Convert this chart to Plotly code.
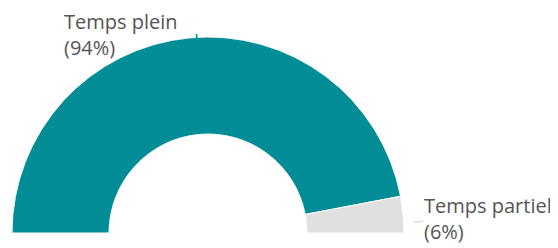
import math
import plotly.graph_objects as go

labels = ["Temps plein", "Temps partiel"]
values = [94, 6]
colors = ["#028c96", "#e0e0e0"]

W, H = 558, 248
# semi-donut geometry (pixels)
cx, cy, R = 208, 233, 196
hole = 0.505
# plotly renders the polar subplot offset by a few pixels; compensate
dx, dy = 8, 8

total = sum(values)
thetas, widths = [], []
start = 180.0
for v in values:
    w = 180.0 * v / total
    thetas.append(start - w / 2)
    widths.append(w)
    start -= w

fig = go.Figure()
fig.add_trace(go.Barpolar(
    r=[1] * len(values), theta=thetas, width=widths,
    marker=dict(color=colors, line=dict(color="white", width=1)),
    hoverinfo="skip", showlegend=False,
))

def px(x):
    return x / W

def py(y):
    return 1 - y / H

fig.update_layout(
    width=W, height=H,
    margin=dict(l=0, r=0, t=0, b=0),
    paper_bgcolor="white", plot_bgcolor="white",
    polar=dict(
        domain=dict(x=[px(cx - R - dx), px(cx + R - dx)],
                    y=[py(cy - dy), py(cy - R - dy)]),
        sector=[0, 180], hole=hole, bgcolor="white",
        radialaxis=dict(visible=False, range=[0, 1]),
        angularaxis=dict(visible=False, direction="counterclockwise", rotation=0),
    ),
    font=dict(family="Open Sans, sans-serif"),
)

for i, (lab, v) in enumerate(zip(labels, values)):
    a = math.radians(thetas[i])
    r1, r2 = R + 2, R + 12
    x1, y1 = cx + r1 * math.cos(a), cy - r1 * math.sin(a)
    x2, y2 = cx + r2 * math.cos(a), cy - r2 * math.sin(a)
    fig.add_shape(type="line", xref="paper", yref="paper",
                  x0=px(x1), y0=py(y1), x1=px(x2), y1=py(y2),
                  line=dict(color=colors[i], width=1.5))
    pct = round(100 * v / total)
    if math.cos(a) < 0.2:
        ax, ay, xa = x2 - 16, y2 + 1, "right"
    else:
        ax, ay, xa = x2 - 1, y2 - 3, "left"
    fig.add_annotation(xref="paper", yref="paper", x=px(ax), y=py(ay),
                       text=f"{lab}<br>({pct}%)", showarrow=False,
                       xanchor=xa, yanchor="middle", align="left",
                       font=dict(size=20, color="#555555"))

fig.write_html("out.html")
